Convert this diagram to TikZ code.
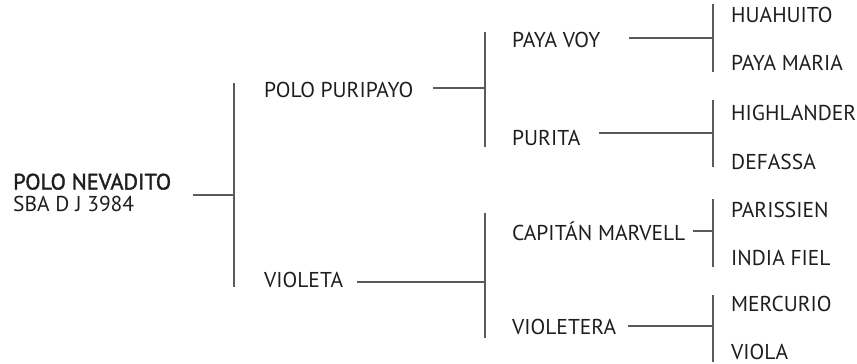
\documentclass[tikz,border=0pt]{standalone}
\usepackage{fontspec}
\setmainfont{PT Sans}
\newfontfamily\medfont[FakeBold=1.6]{PT Sans}
\definecolor{txt}{HTML}{1E1E1E}
\definecolor{lc}{HTML}{5A5A5A}
\begin{document}
\begin{tikzpicture}[x=1pt,y=-1pt,
  lbl/.style={anchor=base west, inner sep=0pt, text=txt, font=\fontsize{21.5}{25}\selectfont},
  ln/.style={draw=lc, line width=1.4pt}]
\useasboundingbox (0,0) rectangle (857,364);
% labels
\node[lbl, font=\fontsize{22.3}{25}\medfont] (nev) at (13,189.5) {POLO NEVADITO};
\node[lbl] (sba) at (13,211) {SBA D J 3984};
\node[lbl] (pur) at (264,97) {POLO PURIPAYO};
\node[lbl] (vio) at (264,287) {VIOLETA};
\node[lbl] (pvo) at (512,47) {PAYA VOY};
\node[lbl] (pta) at (512,145) {PURITA};
\node[lbl] (cap) at (512,240) {CAPITÁN MARVELL};
\node[lbl] (vra) at (512,334) {VIOLETERA};
\node[lbl] (hua) at (731,22) {HUAHUITO};
\node[lbl] (pma) at (731,70) {PAYA MARIA};
\node[lbl] (hig) at (731,120) {HIGHLANDER};
\node[lbl] (def) at (731,169) {DEFASSA};
\node[lbl] (par) at (731,217) {PARISSIEN};
\node[lbl] (ind) at (731,265) {INDIA FIEL};
\node[lbl] (mer) at (731,311) {MERCURIO};
\node[lbl] (vla) at (731,359.5) {VIOLA};
% junction coordinates
\coordinate (nevL) at (193,195); \coordinate (j0) at (234,195);
\coordinate (b0t) at (234,83);   \coordinate (b0b) at (234,287);
\coordinate (purL) at (433,88);  \coordinate (j1) at (485,88);
\coordinate (b1t) at (485,32);   \coordinate (b1b) at (485,147);
\coordinate (vioL) at (357,282); \coordinate (j2) at (485,282);
\coordinate (b2t) at (485,213);  \coordinate (b2b) at (485,338);
\coordinate (pvoL) at (629,38);  \coordinate (j3) at (713,38);
\coordinate (b3t) at (713,4);    \coordinate (b3b) at (713,72);
\coordinate (ptaL) at (599,133); \coordinate (j4) at (713,133);
\coordinate (b4t) at (713,100);  \coordinate (b4b) at (713,167);
\coordinate (capL) at (693,231); \coordinate (j5) at (713,231);
\coordinate (b5t) at (713,199);  \coordinate (b5b) at (713,267);
\coordinate (vraL) at (628,326); \coordinate (j6) at (713,326);
\coordinate (b6t) at (713,295);  \coordinate (b6b) at (713,362);
% connectors
\draw[ln] (nevL) -- (j0); \draw[ln] (b0t) -- (b0b);
\draw[ln] (purL) -- (j1); \draw[ln] (b1t) -- (b1b);
\draw[ln] (vioL) -- (j2); \draw[ln] (b2t) -- (b2b);
\draw[ln] (pvoL) -- (j3); \draw[ln] (b3t) -- (b3b);
\draw[ln] (ptaL) -- (j4); \draw[ln] (b4t) -- (b4b);
\draw[ln] (capL) -- (j5); \draw[ln] (b5t) -- (b5b);
\draw[ln] (vraL) -- (j6); \draw[ln] (b6t) -- (b6b);
\end{tikzpicture}
\end{document}
